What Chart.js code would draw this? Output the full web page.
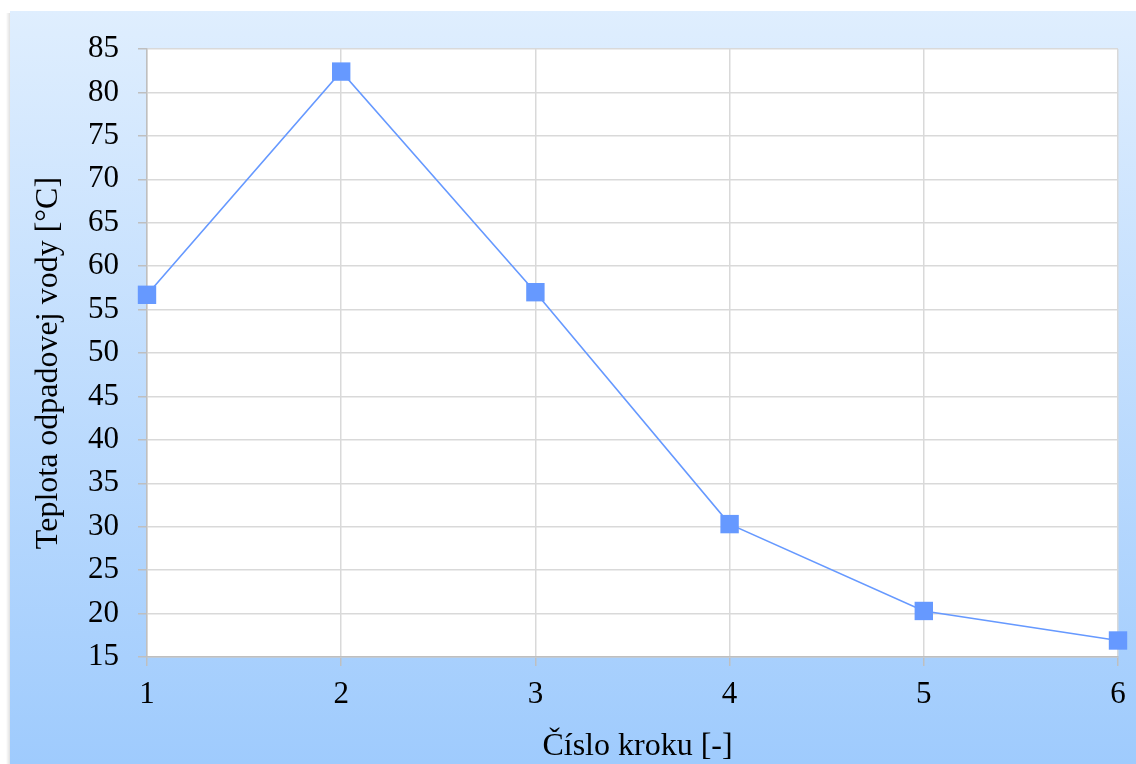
<!DOCTYPE html>
<html>
<head>
<meta charset="utf-8">
<title>Teplota odpadovej vody</title>
<script src="https://cdn.jsdelivr.net/npm/chart.js@4/dist/chart.umd.min.js"></script>
<style>
  html, body { margin: 0; padding: 0; background: #ffffff; }
  #wrap { width: 1136px; height: 764px; position: relative; }
</style>
</head>
<body>
<div id="wrap"><canvas id="c" width="1136" height="764"></canvas></div>
<script>
// Step numbers and the waste-water temperature measured at each step
const steps = [1, 2, 3, 4, 5, 6];
const temperatures = [56.7, 82.4, 57.0, 30.3, 20.3, 16.9];

// Axis range and titles
const yMin = 15, yMax = 85, yStep = 5;
const xTitle = 'Číslo kroku [-]';
const yTitle = 'Teplota odpadovej vody [°C]';

const FONT = "'Liberation Serif', 'Times New Roman', serif";
const LINE = '#6699ff';
const GRID = '#d9d9d9';
const AXIS = '#bfbfbf';

// Light-blue panel behind the chart, white plot area on top
const panel = {
  id: 'panel',
  beforeDraw(chart) {
    const { ctx, chartArea: a } = chart;
    ctx.save();
    const x0 = 10, y0 = 11, x1 = chart.width, y1 = chart.height;
    // faint shadow along the left edge
    const sh = ctx.createLinearGradient(x0 - 4, 0, x0, 0);
    sh.addColorStop(0, 'rgba(0,0,0,0)');
    sh.addColorStop(1, 'rgba(0,0,0,0.12)');
    ctx.fillStyle = sh;
    ctx.fillRect(x0 - 4, y0 + 2, 4, y1 - y0);
    const g = ctx.createLinearGradient(0, y0, 0, y1);
    g.addColorStop(0, '#dfeefe');
    g.addColorStop(1, '#9fcbfd');
    ctx.fillStyle = g;
    ctx.fillRect(x0, y0, x1 - x0, y1 - y0);
    ctx.fillStyle = '#ffffff';
    ctx.fillRect(a.left, a.top, a.right - a.left, a.bottom - a.top);
    ctx.restore();
  }
};

// Axis titles, placed a little off the plot centre like the original layout
const axisTitles = {
  id: 'axisTitles',
  afterDraw(chart) {
    const { ctx, chartArea: a } = chart;
    ctx.save();
    ctx.fillStyle = '#000';
    ctx.font = '32px ' + FONT;
    ctx.textAlign = 'center';
    ctx.textBaseline = 'alphabetic';
    ctx.fillText(xTitle, (a.left + a.right) / 2 + 5, 755);
    ctx.translate(57, (a.top + a.bottom) / 2 + 10);
    ctx.rotate(-Math.PI / 2);
    ctx.fillText(yTitle, 0, 0);
    ctx.restore();
  }
};

new Chart(document.getElementById('c'), {
  type: 'line',
  data: {
    datasets: [{
      data: steps.map((s, i) => ({ x: s, y: temperatures[i] })),
      borderColor: LINE,
      backgroundColor: LINE,
      borderWidth: 1.6,
      pointStyle: 'rect',
      pointRadius: 13,
      pointBorderWidth: 0,
      pointBackgroundColor: LINE,
      tension: 0,
      clip: false
    }]
  },
  options: {
    responsive: false,
    animation: false,
    events: [],
    layout: { padding: { left: 26, top: 49, right: 18, bottom: 0 } },
    plugins: { legend: { display: false }, tooltip: { enabled: false } },
    scales: {
      x: {
        type: 'linear',
        min: 1, max: 6,
        afterFit(scale) { scale.height = 107; },
        ticks: { stepSize: 1, padding: 10, color: '#000', font: { family: FONT, size: 31 } },
        grid: { color: GRID, lineWidth: 1.5, tickLength: 9, tickColor: AXIS },
        border: { color: AXIS, width: 1.5 }
      },
      y: {
        min: yMin, max: yMax,
        afterFit(scale) { scale.width = 121; },
        ticks: { stepSize: yStep, padding: 19, color: '#000', font: { family: FONT, size: 31 } },
        grid: { color: GRID, lineWidth: 1.5, tickLength: 9, tickColor: AXIS },
        border: { color: AXIS, width: 1.5 }
      }
    }
  },
  plugins: [panel, axisTitles]
});
</script>
</body>
</html>
